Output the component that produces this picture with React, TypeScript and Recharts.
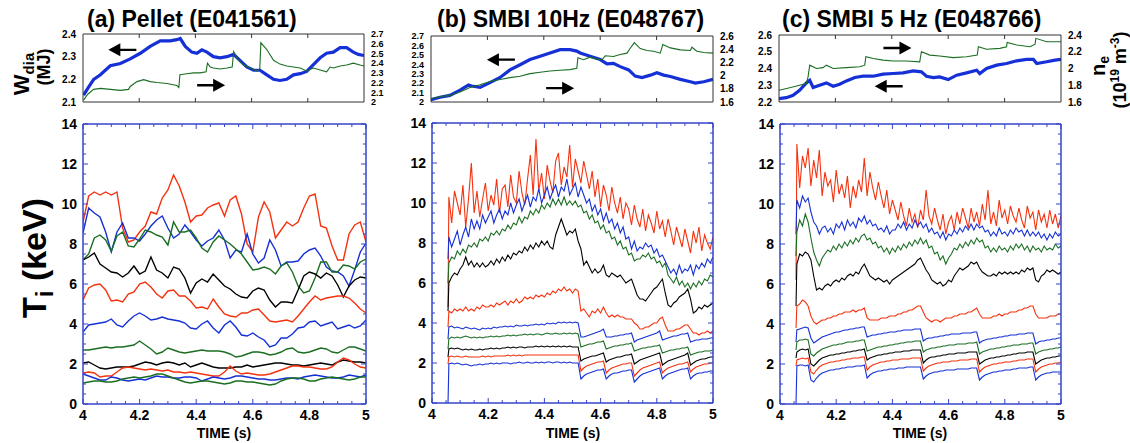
import React from 'react';
import { LineChart, Line, XAxis, YAxis, ReferenceDot } from 'recharts';

const FONT = '"Liberation Sans", Arial, Helvetica, sans-serif';
const RED = '#f5320f';
const BLUE = '#1530d6';
const GREEN = '#1a6e22';
const BLACK = '#000000';
const FRAME_BLUE = '#3545c8';
const FRAME_DARK = '#333333';

// ---------- categories (time grids) ----------
const timeGrid = (a: number, b: number, step: number) =>
  Array.from({ length: Math.round((b - a) / step) + 1 }, (_, i) => Number((a + i * step).toFixed(3)));
const TIME_A = timeGrid(4, 5, 0.02);
const TIME_BC = [4.057, ...timeGrid(4.06, 5, 0.01)];

// ---------- tick labels ----------
const X_MAJOR = [4, 4.2, 4.4, 4.6, 4.8, 5];
const X_MINOR = [4.05, 4.1, 4.15, 4.25, 4.3, 4.35, 4.45, 4.5, 4.55, 4.65, 4.7, 4.75, 4.85, 4.9, 4.95];
const TI_MAJOR = [0, 2, 4, 6, 8, 10, 12, 14];
const TI_MINOR = [0.5, 1, 1.5, 2.5, 3, 3.5, 4.5, 5, 5.5, 6.5, 7, 7.5, 8.5, 9, 9.5, 10.5, 11, 11.5, 12.5, 13, 13.5];
const TOP_X = [4.2, 4.4, 4.6, 4.8];
const A_W_TICKS = [2.1, 2.2, 2.3, 2.4];
const A_N_TICKS = [2, 2.1, 2.2, 2.3, 2.4, 2.5, 2.6, 2.7];
const B_W_TICKS = [2, 2.1, 2.2, 2.3, 2.4, 2.5, 2.6, 2.7];
const B_N_TICKS = [1.6, 1.8, 2, 2.2, 2.4, 2.6];
const C_W_TICKS = [2.2, 2.3, 2.4, 2.5, 2.6];
const C_N_TICKS = [1.6, 1.8, 2, 2.2, 2.4];

// ---------- panel (a) Ti series (keV) ----------
const A_RED1 = [9.1,10.4,10.6,10.45,10.6,10.45,10.6,8.8,8.1,8.2, 8.6,8.9,9.6,9.5,10.3,10.7,11.45,10.9,10.1,9.1, 9.4,9.45,9.8,9.95,10.05,9.4,10.2,10.4,9.5,8.0, 7.6,9.35,10.1,9.6,8.3,8.7,9.1,8.9,9.1,9.8, 10.4,10.5,8.9,8.8,7.9,7.2,7.2,8.5,8.95,9.1, 8.1];
const A_BLUE1 = [8.55,9.8,9.55,9.35,8.6,7.6,8.6,9.05,8.3,8.3, 8.15,8.5,8.9,9.2,9.4,8.8,8.3,8.5,8.95,8.6, 8.2,7.9,8.15,8.3,8.7,8.2,7.3,7.7,7.6,8.5, 7.5,7.05,7.3,8.2,7.7,6.9,7.1,7.1,7.15,7.5, 7.7,7.8,7.4,6.85,6.65,6.6,6.4,5.9,6.7,7.6, 8.05];
const A_GREEN1 = [7.2,7.5,8.3,8.45,8.2,7.65,8.4,8.6,7.9,7.85, 8.25,8.7,8.6,8.45,8.35,7.95,9.1,8.6,8.6,8.7, 8.3,7.8,7.6,8.1,8.4,8.2,8.0,7.75,7.5,7.1, 6.7,6.75,6.85,6.75,6.5,6.9,7.05,6.6,5.9,5.55, 5.65,6.3,7.1,7.1,6.6,6.6,6.95,6.9,6.75,7.1, 7.25];
const A_BLACK1 = [7.2,7.35,7.55,7.0,6.8,6.6,6.55,6.35,6.55,6.9, 6.5,6.65,7.35,6.7,6.55,6.3,6.85,6.75,6.3,5.55, 6.05,6.25,6.1,6.5,6.2,5.9,5.75,5.5,5.35,5.3, 5.65,5.8,5.7,5.2,4.85,5.1,5.1,5.05,5.7,6.4, 6.6,6.5,6.3,6.55,6.4,5.95,5.35,5.9,6.2,6.35, 6.3];
const A_RED2 = [5.2,5.8,5.95,6.0,5.7,5.15,5.2,5.1,5.5,5.6, 6.0,6.1,5.85,5.5,5.3,5.65,5.7,5.4,5.4,5.15, 4.8,4.85,4.75,5.25,4.85,4.5,4.4,4.35,4.55,4.55, 4.7,4.75,4.45,4.15,4.1,4.15,4.2,4.1,4.4,4.75, 5.1,5.4,5.2,5.3,5.35,5.4,5.4,5.3,5.05,4.75, 4.55];
const A_BLUE2 = [3.6,3.95,4.0,4.05,4.1,4.25,3.95,3.85,4.15,4.4, 4.55,4.4,4.2,4.25,4.35,4.25,4.2,4.15,4.05,3.8, 3.75,4.0,4.15,3.8,3.55,3.95,4.15,3.85,3.45,3.4, 3.55,3.35,3.2,2.85,2.95,3.3,3.3,3.5,3.8,3.85, 4.1,4.15,3.9,4.0,4.1,3.75,3.85,3.95,3.8,3.9, 4.2];
const A_GREEN2 = [2.7,2.7,2.75,2.8,2.85,2.8,2.85,2.85,2.9,2.95, 3.15,2.95,2.75,2.5,2.6,2.8,2.7,2.6,2.55,2.6, 2.65,2.7,2.65,2.65,2.65,2.6,2.5,2.35,2.4,2.5, 2.6,2.6,2.55,2.45,2.5,2.6,2.75,2.8,2.6,2.55, 2.6,2.7,2.8,2.75,2.6,2.55,2.7,2.85,2.85,2.75, 2.65];
const A_BLACK2 = [2.05,2.1,1.95,1.8,1.75,1.8,1.85,1.85,1.85,1.9, 2.0,2.1,2.05,1.95,2.05,2.1,2.05,1.95,2.05,1.85, 1.95,2.05,1.95,1.85,1.8,1.8,1.8,1.85,1.85,1.95, 1.85,1.9,1.95,2.0,2.05,2.05,2.0,1.95,1.95,1.9, 1.95,2.0,2.05,2.0,1.95,2.1,2.2,2.15,2.1,2.1, 2.05];
const A_RED3 = [1.55,1.6,1.55,1.35,1.4,1.4,1.6,1.8,1.85,1.8, 1.75,1.7,1.75,1.7,1.65,1.7,1.6,1.6,1.55,1.6, 1.55,1.5,1.45,1.4,1.4,1.6,1.9,1.65,1.5,1.55, 1.5,1.45,1.45,1.5,1.6,1.7,1.8,1.9,1.9,1.85, 1.85,1.8,1.75,1.75,1.85,2.1,2.3,2.2,2.0,1.85, 1.8];
const A_BLUE3 = [1.5,1.4,1.3,1.2,1.2,1.35,1.3,1.2,1.15,1.2, 1.25,1.2,1.3,1.4,1.35,1.35,1.3,1.3,1.35,1.35, 1.3,1.15,1.25,1.35,1.3,1.25,1.3,1.4,1.4,1.35, 1.3,1.25,1.25,1.2,1.2,1.25,1.3,1.3,1.25,1.35, 1.4,1.45,1.4,1.35,1.3,1.3,1.35,1.45,1.4,1.35, 1.45];
const A_GREEN3 = [1.05,1.1,1.15,1.15,1.1,1.1,1.15,1.25,1.3,1.35, 1.3,1.35,1.4,1.5,1.5,1.4,1.3,1.2,1.1,1.05, 1.1,1.15,1.15,1.1,1.05,1.0,1.05,1.15,1.15,1.1, 1.1,1.05,1.0,0.95,1.0,1.15,1.25,1.3,1.3,1.25, 1.15,1.15,1.25,1.3,1.35,1.3,1.25,1.2,1.25,1.35, 1.35];

// ---------- panel (b) Ti series (first value = start at 4.057) ----------
const B_RED1 = [4.8, 10.3,9.0,10.6,10.0,9.4,10.9,8.8,10.2,12.0,9.5, 10.6,9.3,10.2,11.0,9.6,10.4,9.9,11.2,9.5,10.7, 10.9,9.8,11.4,10.3,10.0,11.6,10.5,9.9,11.2,12.4, 10.4,13.2,10.6,11.5,10.2,11.9,11.1,10.5,12.1,12.5, 10.9,11.8,11.3,12.9,10.8,12.2,11.6,11.0,12.1,11.4, 10.7,11.6,10.3,11.2,9.8,10.9,10.4,9.6,10.8,10.0, 9.5,10.3,9.2,10.0,9.7,8.9,9.9,9.2,8.8,9.7, 8.6,9.4,9.0,8.5,9.6,8.7,9.1,8.3,9.2,8.6, 7.9,8.8,8.3,7.8,8.7,8.1,7.5,8.6,8.0,8.8, 7.6,8.4,8.0,7.7,8.3];
const B_BLUE1 = [7.2, 8.3,7.8,8.2,8.6,7.9,8.4,8.8,8.3,9.2,8.7, 9.1,8.7,9.4,9.0,9.3,9.6,9.0,9.4,9.7,9.2, 9.6,9.4,10.0,9.5,9.9,10.2,9.6,10.0,10.4,9.8, 10.3,10.1,10.7,10.0,10.4,10.8,10.2,10.6,10.9,10.3, 10.8,10.6,11.2,10.4,10.7,11.0,10.3,10.8,10.4,10.0, 10.2,9.6,9.9,9.4,9.7,9.1,9.5,9.0,9.2,8.7, 9.0,8.5,8.8,8.2,8.3,7.7,8.1,7.6,7.8,7.7, 8.0,7.8,7.9,7.5,7.7,7.3,7.4,7.1,6.8,6.5, 6.7,6.4,6.9,6.5,6.7,6.6,6.9,6.4,6.9,6.7, 7.0,6.8,7.2,7.0,7.3];
const B_GREEN1 = [6.0, 7.0,7.3,7.2,7.6,7.4,7.7,7.5,7.9,7.8,8.0, 7.8,8.2,8.1,8.3,8.1,8.5,8.4,8.6,8.4,8.7, 8.6,8.9,8.7,9.0,8.9,9.3,9.0,9.3,9.2,9.6, 9.4,9.7,9.5,9.9,9.7,10.0,9.8,10.2,9.9,10.2, 9.9,10.3,9.9,10.1,9.9,10.1,9.8,9.9,9.5,9.6, 9.2,9.4,9.0,9.1,8.7,8.9,8.5,8.6,8.2,8.3, 7.9,8.1,7.7,7.8,7.4,7.5,7.1,7.2,7.2,7.4, 7.3,7.5,7.2,7.3,7.0,7.1,6.8,7.0,6.4,6.2, 6.0,6.3,5.9,6.1,5.8,6.0,5.7,6.0,5.8,6.1, 5.9,6.2,6.1,6.4,6.3];
const B_BLACK1 = [4.6, 6.0,6.3,6.5,6.4,6.7,6.9,7.3,6.9,7.1,6.8, 7.0,6.8,7.0,6.8,6.9,7.1,6.9,7.2,7.0,7.3, 7.1,7.4,7.2,7.5,7.4,7.6,7.5,7.8,7.6,7.9, 7.7,8.0,7.8,8.1,7.9,8.1,7.8,7.7,8.4,8.8, 9.2,8.8,8.4,8.6,8.5,8.7,8.1,7.7,6.9,7.1, 6.8,6.5,6.7,6.5,6.6,6.9,6.4,6.3,6.5,6.4, 6.3,6.4,6.2,6.0,6.1,6.2,5.8,5.4,5.2,5.2, 5.1,5.3,5.5,5.7,5.8,6.0,6.2,5.5,4.9,4.8, 5.0,5.1,5.3,5.4,5.5,5.7,5.2,4.5,4.6,4.8, 4.7,4.9,4.8,4.9,5.0];
const B_RED2 = [3.8, 4.6,4.5,4.7,4.6,4.7,4.6,4.8,4.6,4.7,4.6, 4.8,4.7,4.9,4.8,4.8,4.9,4.8,5.0,4.9,5.0, 5.1,4.9,5.1,5.0,5.2,5.0,5.1,5.3,5.2,5.3, 5.2,5.4,5.3,5.4,5.3,5.5,5.4,5.6,5.5,5.7, 5.6,5.8,5.6,5.7,5.5,5.7,5.6,4.6,4.7,4.5, 4.3,4.6,4.5,4.7,4.5,4.8,4.5,4.3,4.4,4.3, 4.4,4.3,4.3,4.2,4.2,4.2,4.0,3.9,3.7,3.7, 3.8,3.8,3.9,4.0,4.0,4.2,4.3,3.9,3.6,3.6, 3.6,3.7,3.7,3.8,3.9,3.9,3.7,3.5,3.5,3.4, 3.5,3.5,3.6,3.5,3.6];
const B_BLUE2 = [3.2, 3.8,3.85,3.75,3.8,3.75,3.7,3.8,3.75,3.7,3.75, 3.7,3.65,3.75,3.7,3.75,3.7,3.8,3.75,3.8,3.8, 3.85,3.8,3.85,3.8,3.9,3.85,3.85,3.9,3.85,3.9, 3.9,3.95,3.9,3.95,3.9,4.0,3.95,4.0,3.95,4.05, 4.0,4.05,4.0,4.05,4.0,4.05,4.0,3.3,3.3,3.35, 3.4,3.45,3.5,3.55,3.6,3.7,3.3,3.3,3.3,3.35, 3.35,3.4,3.4,3.45,3.45,3.5,3.05,3.15,3.2,3.25, 3.3,3.35,3.4,3.45,3.5,3.6,3.15,3.2,3.25,3.3, 3.35,3.35,3.4,3.45,3.45,3.5,3.05,3.1,3.15,3.15, 3.2,3.2,3.2,3.25,3.25];
const B_GREEN2 = [2.7, 3.2,3.3,3.25,3.3,3.25,3.3,3.35,3.3,3.25,3.3, 3.25,3.3,3.25,3.3,3.3,3.35,3.3,3.35,3.3,3.35, 3.35,3.4,3.35,3.4,3.35,3.4,3.4,3.45,3.4,3.45, 3.4,3.45,3.45,3.4,3.45,3.5,3.45,3.45,3.5,3.45, 3.45,3.5,3.45,3.5,3.45,3.5,3.45,2.8,2.85,2.9, 2.95,2.95,3.0,3.05,3.05,3.1,2.7,2.75,2.8,2.85, 2.85,2.9,2.9,2.95,2.95,3.0,2.6,2.65,2.7,2.75, 2.75,2.8,2.8,2.85,2.85,2.9,2.5,2.55,2.6,2.65, 2.65,2.7,2.7,2.75,2.75,2.8,2.4,2.45,2.5,2.55, 2.55,2.6,2.6,2.6,2.65];
const B_BLACK2 = [2.3, 2.7,2.75,2.7,2.75,2.7,2.65,2.7,2.65,2.7,2.65, 2.65,2.7,2.65,2.7,2.7,2.75,2.7,2.75,2.7,2.75, 2.75,2.8,2.75,2.8,2.75,2.8,2.8,2.75,2.8,2.8, 2.8,2.85,2.8,2.85,2.8,2.85,2.8,2.85,2.8,2.85, 2.8,2.85,2.8,2.85,2.8,2.8,2.8,2.1,2.2,2.25, 2.3,2.35,2.35,2.4,2.45,2.5,2.05,2.15,2.2,2.25, 2.3,2.3,2.35,2.4,2.4,2.45,1.95,2.05,2.15,2.2, 2.25,2.3,2.35,2.4,2.45,2.5,1.9,2.0,2.1,2.15, 2.2,2.25,2.3,2.35,2.4,2.5,1.9,2.0,2.1,2.15, 2.2,2.2,2.25,2.3,2.3];
const B_RED3 = [1.95, 2.3,2.35,2.3,2.35,2.3,2.3,2.35,2.3,2.3,2.3, 2.3,2.3,2.35,2.3,2.35,2.3,2.35,2.35,2.35,2.35, 2.35,2.4,2.35,2.4,2.35,2.4,2.35,2.4,2.4,2.4, 2.4,2.4,2.4,2.4,2.4,2.4,2.4,2.4,2.4,2.4, 2.4,2.4,2.4,2.4,2.4,2.4,2.4,1.6,1.75,1.85, 1.9,1.95,2.0,2.05,2.05,2.1,1.5,1.65,1.75,1.8, 1.85,1.9,1.95,1.95,2.0,2.0,1.35,1.5,1.65,1.75, 1.8,1.85,1.9,1.95,2.0,2.05,1.5,1.65,1.75,1.8, 1.85,1.9,1.95,1.95,2.0,2.05,1.55,1.7,1.8,1.85, 1.9,1.95,1.95,2.0,2.0];
const B_BLUE3 = [0.0, 1.95,2.0,1.95,2.0,1.95,1.9,1.95,1.9,1.85,1.9, 1.9,1.95,1.9,1.95,1.95,2.0,1.95,2.0,1.95,2.0, 2.0,2.0,1.95,2.0,2.0,2.05,2.0,2.0,2.05,2.0, 2.0,2.05,2.0,2.05,2.0,2.05,2.05,2.0,2.05,2.05, 2.0,2.05,2.0,2.05,2.0,2.0,2.0,1.2,1.35,1.45, 1.5,1.55,1.6,1.65,1.65,1.7,1.2,1.35,1.45,1.5, 1.5,1.55,1.6,1.6,1.65,1.65,1.05,1.2,1.35,1.45, 1.5,1.55,1.6,1.65,1.7,1.75,1.2,1.35,1.45,1.5, 1.55,1.6,1.65,1.7,1.7,1.75,1.2,1.35,1.45,1.5, 1.5,1.55,1.55,1.6,1.6];

// ---------- panel (c) Ti series (first value = start at 4.057) ----------
const C_RED1 = [6.2, 13.0,10.8,12.4,11.8,12.8,10.9,12.2,11.3,12.7,10.4, 11.6,10.9,11.2,10.1,11.7,10.5,11.0,10.3,11.4,9.8, 10.9,10.3,11.2,10.6,12.3,10.4,11.6,10.8,10.2,11.1, 10.4,9.8,10.7,9.5,10.2,9.7,9.2,10.1,9.4,8.9, 9.8,9.1,9.5,8.8,9.7,9.2,10.7,9.4,9.0,9.8, 9.2,8.7,9.5,8.5,9.1,9.4,8.7,9.6,9.0,9.8, 9.3,8.8,9.8,9.1,9.6,8.9,10.0,9.2,10.7,9.0, 9.6,8.9,10.2,9.3,9.7,9.0,9.9,9.4,9.1,9.8, 9.2,8.8,9.9,9.3,9.6,8.7,9.7,9.1,9.5,8.8, 9.7,9.0,9.5,8.8,9.4];
const C_BLUE1 = [8.5, 10.2,9.8,10.4,10.1,10.3,9.6,9.1,8.9,8.5,8.8, 8.9,8.6,8.8,8.5,9.0,8.8,9.1,8.7,9.2,8.9, 9.1,8.8,9.3,9.1,9.4,9.0,9.2,8.9,9.0,8.7, 8.8,8.6,8.9,8.5,8.7,8.7,9.0,8.8,9.1,8.7, 9.0,8.8,9.2,8.9,9.1,8.8,9.0,8.6,8.8,8.5, 8.6,8.3,8.6,8.2,8.5,8.4,8.7,8.5,8.8,8.6, 8.9,8.7,9.0,8.7,9.0,8.8,8.9,8.6,8.7,8.4, 8.6,8.4,8.8,8.5,8.6,8.4,8.7,8.5,8.8,8.6, 8.7,8.4,8.7,8.4,8.6,8.4,8.6,8.3,8.5,8.2, 8.5,8.3,8.6,8.4,8.5];
const C_GREEN1 = [7.4, 8.6,9.2,8.9,9.5,9.1,8.3,7.6,7.2,6.9,7.3, 7.5,7.7,7.6,7.9,7.7,8.0,7.8,8.1,7.9,8.2, 8.0,8.3,8.1,8.4,8.5,8.2,8.3,8.0,8.1,7.8, 7.9,7.6,7.8,7.5,7.8,7.6,7.9,7.7,8.0,7.8, 8.1,7.9,8.2,8.0,8.3,8.0,8.2,7.8,7.9,7.5, 7.6,7.2,7.4,7.0,7.3,7.5,7.8,7.7,8.0,7.8, 8.1,7.9,8.2,8.0,8.3,8.1,8.2,7.8,7.9,7.6, 7.8,7.6,7.9,7.7,7.8,7.6,7.9,7.7,8.0,7.8, 8.0,7.7,7.9,7.6,7.9,7.7,7.8,7.6,7.9,7.7, 7.8,7.7,8.0,7.8,7.9];
const C_BLACK1 = [4.9, 7.0,7.5,7.4,7.6,7.5,7.2,6.4,5.7,5.8,5.7, 5.9,6.0,5.9,6.1,6.2,6.1,6.3,6.2,6.4,6.5, 6.4,6.6,6.5,6.8,7.0,6.7,6.4,6.3,6.2,6.3, 6.2,6.1,6.2,6.0,6.2,6.3,6.4,6.5,6.6,6.7, 6.8,6.9,7.0,7.2,7.3,7.0,6.7,6.5,6.2,6.1, 6.0,6.1,5.9,6.0,6.2,6.1,6.4,6.6,6.8,6.7, 6.8,6.9,7.1,7.0,7.1,6.8,6.6,6.5,6.4,6.4, 6.5,6.4,6.6,6.5,6.6,6.5,6.6,6.5,6.6,6.5, 6.7,6.6,6.8,6.7,6.8,6.2,6.1,6.4,6.5,6.7, 6.6,6.7,6.6,6.5,6.6];
const C_RED2 = [3.8, 4.9,5.0,5.2,5.1,4.9,4.4,4.1,4.0,4.1,4.2, 4.2,4.3,4.3,4.4,4.4,4.5,4.5,4.6,4.6,4.6, 4.7,4.6,4.7,4.7,4.8,4.3,4.2,4.2,4.2,4.2, 4.3,4.3,4.3,4.4,4.4,4.4,4.5,4.5,4.6,4.6, 4.7,4.7,4.8,4.9,4.9,4.6,4.3,4.2,4.1,4.2, 4.2,4.1,4.2,4.3,4.3,4.3,4.4,4.4,4.5,4.5, 4.5,4.6,4.6,4.7,4.8,4.5,4.3,4.3,4.3,4.3, 4.4,4.4,4.5,4.4,4.5,4.5,4.6,4.6,4.6,4.7, 4.7,4.8,4.8,4.9,4.9,4.5,4.3,4.3,4.3,4.3, 4.4,4.4,4.4,4.5,4.5];
const C_BLUE2 = [3.1, 3.7,3.75,3.8,3.85,3.8,3.3,3.05,3.15,3.25,3.35, 3.4,3.45,3.5,3.55,3.6,3.6,3.65,3.7,3.7,3.75, 3.75,3.8,3.8,3.85,3.85,3.35,3.4,3.45,3.45,3.5, 3.5,3.55,3.55,3.6,3.6,3.6,3.65,3.65,3.7,3.7, 3.7,3.7,3.75,3.75,3.75,3.15,3.25,3.3,3.3,3.35, 3.35,3.4,3.4,3.45,3.45,3.5,3.5,3.5,3.5,3.55, 3.55,3.55,3.55,3.6,3.6,3.05,3.15,3.2,3.25,3.25, 3.3,3.3,3.35,3.35,3.4,3.4,3.45,3.45,3.45,3.5, 3.5,3.5,3.55,3.55,3.55,3.0,3.1,3.15,3.15,3.2, 3.2,3.25,3.25,3.3,3.3];
const C_GREEN2 = [2.7, 3.1,3.2,3.2,3.25,3.2,2.5,2.4,2.55,2.65,2.75, 2.8,2.85,2.9,2.95,2.95,3.0,3.0,3.05,3.1,3.1, 3.1,3.15,3.15,3.2,3.2,2.65,2.7,2.75,2.8,2.85, 2.85,2.9,2.9,2.95,2.95,3.0,3.0,3.05,3.05,3.1, 3.1,3.1,3.15,3.15,3.15,2.6,2.7,2.75,2.8,2.8, 2.85,2.85,2.9,2.9,2.95,2.95,2.95,3.0,3.0,3.0, 3.0,3.05,3.05,3.05,3.1,2.5,2.6,2.65,2.7,2.75, 2.75,2.8,2.8,2.85,2.85,2.9,2.9,2.95,2.95,2.95, 3.0,3.0,3.0,3.05,3.05,2.5,2.6,2.65,2.7,2.7, 2.75,2.75,2.8,2.8,2.85];
const C_BLACK2 = [2.3, 2.6,2.7,2.75,2.7,2.75,2.0,1.9,2.05,2.2,2.3, 2.35,2.4,2.45,2.45,2.5,2.5,2.55,2.55,2.6,2.6, 2.65,2.65,2.7,2.7,2.75,2.2,2.3,2.35,2.4,2.45, 2.45,2.5,2.5,2.55,2.55,2.6,2.6,2.6,2.65,2.65, 2.65,2.7,2.7,2.7,2.7,2.05,2.2,2.3,2.35,2.35, 2.4,2.4,2.45,2.45,2.5,2.5,2.5,2.55,2.55,2.55, 2.55,2.6,2.6,2.6,2.6,2.0,2.1,2.2,2.25,2.3, 2.3,2.35,2.35,2.4,2.4,2.45,2.45,2.5,2.5,2.55, 2.55,2.55,2.6,2.6,2.6,2.0,2.1,2.2,2.25,2.3, 2.3,2.35,2.35,2.4,2.4];
const C_RED3 = [1.9, 2.2,2.25,2.3,2.25,2.3,1.6,1.5,1.7,1.85,1.95, 2.0,2.05,2.1,2.1,2.15,2.15,2.2,2.2,2.25,2.25, 2.3,2.3,2.3,2.35,2.35,1.7,1.85,1.95,2.0,2.05, 2.1,2.1,2.15,2.15,2.2,2.2,2.2,2.25,2.25,2.25, 2.25,2.3,2.3,2.3,2.3,1.65,1.8,1.9,1.95,2.0, 2.05,2.05,2.1,2.1,2.1,2.15,2.15,2.15,2.2,2.2, 2.2,2.2,2.25,2.25,2.25,1.6,1.75,1.85,1.9,1.95, 2.0,2.0,2.05,2.05,2.1,2.1,2.1,2.15,2.15,2.2, 2.2,2.2,2.25,2.25,2.25,1.6,1.75,1.85,1.9,1.95, 2.0,2.0,2.05,2.05,2.1];
const C_BLUE3 = [0.0, 1.9,1.95,1.95,1.9,1.95,1.2,1.1,1.3,1.45,1.55, 1.6,1.65,1.7,1.7,1.75,1.75,1.8,1.8,1.85,1.85, 1.85,1.9,1.9,1.9,1.95,1.3,1.45,1.55,1.6,1.65, 1.65,1.7,1.7,1.75,1.75,1.75,1.8,1.8,1.8,1.85, 1.85,1.85,1.85,1.85,1.85,1.25,1.4,1.5,1.55,1.6, 1.6,1.65,1.65,1.7,1.7,1.7,1.7,1.75,1.75,1.75, 1.75,1.75,1.8,1.8,1.8,1.2,1.35,1.45,1.5,1.55, 1.6,1.6,1.65,1.65,1.7,1.7,1.7,1.75,1.75,1.8, 1.8,1.8,1.8,1.85,1.85,1.2,1.35,1.45,1.5,1.55, 1.55,1.6,1.6,1.6,1.6];

// ---------- top panels: W_dia (MJ, left axis) and n_e (1e19 m^-3, right axis) ----------
const A_W_T = [4.002,4.017,4.038,4.062,4.097,4.133,4.168,4.204,4.239,4.275,4.31,4.334,4.346,4.364,4.387,4.405,4.423,4.441,4.464,4.488,4.512,4.536,4.553,4.583,4.607,4.63,4.654,4.678,4.701,4.725,4.749,4.773,4.796,4.82,4.844,4.867,4.891,4.915,4.938,4.962,4.98,5.0];
const A_W = [2.13,2.16,2.2,2.22,2.26,2.27,2.29,2.315,2.345,2.37,2.37,2.375,2.38,2.345,2.32,2.315,2.33,2.32,2.3,2.295,2.3,2.31,2.29,2.255,2.24,2.24,2.22,2.2,2.195,2.2,2.22,2.225,2.235,2.265,2.295,2.315,2.32,2.34,2.34,2.32,2.31,2.305];
const A_N_T = [4.002,4.017,4.038,4.062,4.097,4.133,4.162,4.168,4.192,4.216,4.239,4.263,4.299,4.334,4.341,4.345,4.37,4.393,4.417,4.438,4.443,4.453,4.464,4.488,4.512,4.531,4.536,4.553,4.571,4.595,4.618,4.629,4.633,4.654,4.678,4.701,4.725,4.749,4.773,4.796,4.82,4.844,4.867,4.879,4.891,4.915,4.938,4.962,4.986,5.0];
const A_N = [2.02,2.08,2.13,2.14,2.13,2.12,2.13,2.16,2.21,2.23,2.21,2.2,2.19,2.17,2.15,2.28,2.29,2.3,2.3,2.31,2.4,2.36,2.35,2.34,2.35,2.36,2.52,2.43,2.38,2.35,2.32,2.34,2.61,2.54,2.43,2.39,2.37,2.36,2.35,2.32,2.35,2.33,2.31,2.36,2.35,2.37,2.38,2.4,2.38,2.37];
const B_W_T = [4.0,4.032,4.067,4.103,4.133,4.144,4.174,4.209,4.245,4.28,4.316,4.351,4.387,4.422,4.458,4.493,4.517,4.529,4.564,4.6,4.624,4.647,4.671,4.701,4.724,4.748,4.778,4.801,4.825,4.849,4.884,4.92,4.937,4.967,5.0];
const B_W = [2.025,2.05,2.07,2.125,2.18,2.17,2.155,2.205,2.26,2.34,2.395,2.45,2.485,2.52,2.555,2.555,2.54,2.52,2.485,2.45,2.405,2.41,2.375,2.34,2.275,2.26,2.285,2.31,2.285,2.27,2.24,2.215,2.2,2.215,2.24];
const B_N_T = [4.0,4.032,4.067,4.103,4.138,4.174,4.209,4.245,4.28,4.316,4.351,4.387,4.422,4.458,4.493,4.517,4.521,4.541,4.564,4.588,4.606,4.618,4.647,4.671,4.695,4.704,4.721,4.742,4.766,4.789,4.813,4.822,4.849,4.884,4.92,4.925,4.943,4.967,5.0];
const B_N = [1.65,1.68,1.7,1.75,1.82,1.86,1.91,1.94,1.97,1.99,2.03,2.05,2.07,2.08,2.09,2.11,2.27,2.24,2.28,2.25,2.24,2.3,2.29,2.32,2.34,2.4,2.5,2.41,2.38,2.37,2.34,2.47,2.42,2.39,2.38,2.43,2.37,2.35,2.34];
const C_W_T = [4.0,4.026,4.05,4.073,4.097,4.109,4.121,4.144,4.168,4.192,4.215,4.239,4.269,4.298,4.334,4.369,4.405,4.44,4.476,4.505,4.523,4.547,4.57,4.6,4.63,4.665,4.701,4.712,4.736,4.772,4.807,4.843,4.878,4.902,4.914,4.949,4.979,5.0];
const C_W = [2.22,2.226,2.24,2.27,2.314,2.33,2.286,2.3,2.314,2.294,2.306,2.326,2.346,2.354,2.354,2.366,2.37,2.374,2.386,2.38,2.354,2.346,2.35,2.334,2.36,2.374,2.39,2.37,2.4,2.42,2.43,2.446,2.454,2.454,2.43,2.44,2.45,2.454];
const C_N_T = [4.0,4.038,4.073,4.097,4.103,4.109,4.133,4.156,4.168,4.192,4.239,4.286,4.304,4.308,4.334,4.369,4.405,4.452,4.499,4.505,4.535,4.57,4.618,4.665,4.703,4.707,4.736,4.783,4.807,4.809,4.843,4.89,4.908,4.911,4.949,5.0];
const C_N = [1.74,1.77,1.8,1.82,1.9,2.04,2.0,2.01,2.04,2.0,2.01,2.02,2.04,2.14,2.12,2.1,2.09,2.09,2.08,2.2,2.16,2.15,2.13,2.14,2.16,2.26,2.23,2.24,2.26,2.31,2.28,2.26,2.29,2.36,2.32,2.32];

// ---------- helpers ----------
const near = (a: number, b: number) => Math.abs(a - b) < 1e-6;
const fmtNum = (v: number) => (near(v, Math.round(v)) ? String(Math.round(v)) : v.toFixed(1));

type Side = 'bottom' | 'top' | 'left' | 'right';
function tickR(side: Side, majors: number[], o: any) {
  return (p: any) => {
    const v = Number(p.payload.value);
    const x = Number(p.x);
    const y = Number(p.y);
    const major = majors.some((m) => near(m, v));
    const len = major ? o.majorLen : o.minorLen;
    let line: any = null;
    if (len > 0) {
      let x2 = x, y2 = y;
      if (side === 'bottom') y2 = y - len;
      if (side === 'top') y2 = y + len;
      if (side === 'left') x2 = x + len;
      if (side === 'right') x2 = x - len;
      line = <line x1={x} y1={y} x2={x2} y2={y2} stroke={o.color} strokeWidth={o.sw || 1} />;
    }
    let label: any = null;
    if (o.labels && major) {
      const s = fmtNum(v);
      const common = { fontFamily: FONT, fontWeight: 'bold', fontSize: o.fontSize, fill: '#000' } as any;
      if (side === 'bottom') label = <text x={x} y={y + o.gap} textAnchor="middle" {...common}>{s}</text>;
      if (side === 'left') label = <text x={x - o.gap} y={y + o.fontSize * 0.36} textAnchor="end" {...common}>{s}</text>;
      if (side === 'right') label = <text x={x + o.gap} y={y + o.fontSize * 0.36} textAnchor="start" {...common}>{s}</text>;
    }
    return <g>{line}{label}</g>;
  };
}

const arrowShape = (dir: number) => (p: any) => {
  const cx = Number(p.cx), cy = Number(p.cy);
  const L = 14, H = 12, W = 6.5, T = 1.2;
  const tip = cx + dir * L;
  const base = tip - dir * H;
  const tail = cx - dir * L;
  const d = `M${tip},${cy} L${base},${cy - W} L${base},${cy - T} L${tail},${cy - T} L${tail},${cy + T} L${base},${cy + T} L${base},${cy + W} Z`;
  return <path d={d} fill="#000" />;
};

const ALL_X = [...X_MAJOR, ...X_MINOR].sort((a, b) => a - b);
const ALL_Y = [...TI_MAJOR, ...TI_MINOR].sort((a, b) => a - b);

function TiPanel(props: any) {
  const { pos, margin, yWidth, xHeight, times, series, colors, sw } = props;
  const rows = times.map((t: number, i: number) => {
    const r: any = { t };
    series.forEach((s: number[], k: number) => (r['s' + k] = s[i]));
    return r;
  });
  const frame = { stroke: FRAME_BLUE, strokeWidth: 1.5 };
  return (
    <div style={{ position: 'absolute', left: pos[0], top: pos[1] }}>
      <LineChart width={pos[2]} height={pos[3]} data={rows} margin={margin}>
        <XAxis xAxisId="b" orientation="bottom" type="number" dataKey="t" domain={[4, 5]} allowDataOverflow ticks={ALL_X} interval={0} height={xHeight} tickSize={0} tickMargin={0} axisLine={frame} tickLine={false}
          tick={tickR('bottom', X_MAJOR, { color: FRAME_BLUE, majorLen: 5, minorLen: 3, labels: true, fontSize: 14, gap: 16 })} />
        <XAxis xAxisId="t" orientation="top" type="number" dataKey="t" domain={[4, 5]} allowDataOverflow ticks={ALL_X} interval={0} height={1} tickSize={0} tickMargin={0} axisLine={frame} tickLine={false}
          tick={tickR('top', X_MAJOR, { color: FRAME_BLUE, majorLen: 5, minorLen: 3 })} />
        <YAxis yAxisId="l" orientation="left" type="number" domain={[0, 14]} allowDataOverflow ticks={ALL_Y} interval={0} width={yWidth} tickSize={0} tickMargin={0} axisLine={frame} tickLine={false}
          tick={tickR('left', TI_MAJOR, { color: FRAME_BLUE, majorLen: 5, minorLen: 3, labels: true, fontSize: 14, gap: 6 })} />
        <YAxis yAxisId="r" orientation="right" type="number" domain={[0, 14]} allowDataOverflow ticks={ALL_Y} interval={0} width={1} tickSize={0} tickMargin={0} axisLine={frame} tickLine={false}
          tick={tickR('right', TI_MAJOR, { color: FRAME_BLUE, majorLen: 5, minorLen: 3 })} />
        {series.map((_: any, k: number) => (
          <Line key={k} xAxisId="b" yAxisId="l" type="linear" dataKey={'s' + k} stroke={colors[k]} strokeWidth={sw} dot={false} activeDot={false} isAnimationActive={false} />
        ))}
      </LineChart>
    </div>
  );
}

function TopPanel(props: any) {
  const { pos, margin, yLWidth, yRWidth, wDom, wTicks, nDom, nTicks, wT, wV, nT, nV, arrows, lFont, rFont } = props;
  const wRows = wT.map((t: number, i: number) => ({ t, v: wV[i] }));
  const nRows = nT.map((t: number, i: number) => ({ t, v: nV[i] }));
  const frame = { stroke: FRAME_DARK, strokeWidth: 1 };
  return (
    <div style={{ position: 'absolute', left: pos[0], top: pos[1] }}>
      <LineChart width={pos[2]} height={pos[3]} margin={margin}>
        <XAxis xAxisId="b" orientation="bottom" type="number" dataKey="t" domain={[4, 5]} allowDataOverflow ticks={TOP_X} interval={0} height={1} tickSize={0} tickMargin={0} axisLine={frame} tickLine={false}
          tick={tickR('bottom', TOP_X, { color: FRAME_DARK, majorLen: 4, minorLen: 0 })} />
        <XAxis xAxisId="t" orientation="top" type="number" dataKey="t" domain={[4, 5]} allowDataOverflow ticks={TOP_X} interval={0} height={1} tickSize={0} tickMargin={0} axisLine={frame} tickLine={false}
          tick={tickR('top', TOP_X, { color: FRAME_DARK, majorLen: 4, minorLen: 0 })} />
        <YAxis yAxisId="w" orientation="left" type="number" domain={wDom} allowDataOverflow ticks={wTicks} interval={0} width={yLWidth} tickSize={0} tickMargin={0} axisLine={frame} tickLine={false}
          tick={tickR('left', wTicks, { color: FRAME_DARK, majorLen: 0, minorLen: 0, labels: true, fontSize: lFont, gap: 7 })} />
        <YAxis yAxisId="n" orientation="right" type="number" domain={nDom} allowDataOverflow ticks={nTicks} interval={0} width={yRWidth} tickSize={0} tickMargin={0} axisLine={frame} tickLine={false}
          tick={tickR('right', nTicks, { color: FRAME_DARK, majorLen: 0, minorLen: 0, labels: true, fontSize: rFont, gap: 7 })} />
        <Line data={wRows} xAxisId="b" yAxisId="w" type="linear" dataKey="v" stroke={BLUE} strokeWidth={3.2} dot={false} activeDot={false} isAnimationActive={false} />
        <Line data={nRows} xAxisId="b" yAxisId="n" type="linear" dataKey="v" stroke={GREEN} strokeWidth={1.1} dot={false} activeDot={false} isAnimationActive={false} />
        {arrows.map((a: any, i: number) => (
          <ReferenceDot key={i} xAxisId="b" yAxisId="w" x={a.t} y={a.v} r={1} shape={arrowShape(a.dir)} ifOverflow="visible" />
        ))}
      </LineChart>
    </div>
  );
}

const COLORS_A = [RED, BLUE, GREEN, BLACK, RED, BLUE, GREEN, BLACK, RED, BLUE, GREEN];
const COLORS_BC = [RED, BLUE, GREEN, BLACK, RED, BLUE, GREEN, BLACK, RED, BLUE];

export default function App() {
  return (
    <div style={{ position: 'absolute', left: 0, top: 0, width: 1130, height: 443, background: '#fff', overflow: 'hidden' }}>
      <TopPanel pos={[0, 20, 400, 90]} margin={{ top: 13, right: 6, bottom: 7, left: 23 }} yLWidth={60} yRWidth={30}
        wDom={[2.1, 2.4]} wTicks={A_W_TICKS} nDom={[2, 2.7]} nTicks={A_N_TICKS} wT={A_W_T} wV={A_W} nT={A_N_T} nV={A_N}
        lFont={10} rFont={9}
        arrows={[{ t: 4.14, v: 2.33, dir: -1 }, { t: 4.456, v: 2.174, dir: 1 }]} />
      <TopPanel pos={[360, 20, 400, 90]} margin={{ top: 15, right: 17, bottom: 7, left: 21 }} yLWidth={50} yRWidth={30}
        wDom={[2.0, 2.7]} wTicks={B_W_TICKS} nDom={[1.6, 2.6]} nTicks={B_N_TICKS} wT={B_W_T} wV={B_W} nT={B_N_T} nV={B_N}
        lFont={9} rFont={10}
        arrows={[{ t: 4.248, v: 2.449, dir: -1 }, { t: 4.458, v: 2.147, dir: 1 }]} />
      <TopPanel pos={[720, 20, 410, 90]} margin={{ top: 14, right: 39, bottom: 7, left: 9 }} yLWidth={50} yRWidth={30}
        wDom={[2.2, 2.6]} wTicks={C_W_TICKS} nDom={[1.6, 2.4]} nTicks={C_N_TICKS} wT={C_W_T} wV={C_W} nT={C_N_T} nV={C_N}
        lFont={10} rFont={10}
        arrows={[{ t: 4.42, v: 2.522, dir: 1 }, { t: 4.389, v: 2.294, dir: -1 }]} />

      <TiPanel pos={[0, 110, 380, 333]} margin={{ top: 13, right: 13, bottom: 0, left: 23 }} yWidth={60} xHeight={39}
        times={TIME_A} series={[A_RED1, A_BLUE1, A_GREEN1, A_BLACK1, A_RED2, A_BLUE2, A_GREEN2, A_BLACK2, A_RED3, A_BLUE3, A_GREEN3]}
        colors={COLORS_A} sw={1.4} />
      <TiPanel pos={[370, 110, 360, 333]} margin={{ top: 12, right: 16, bottom: 0, left: 12 }} yWidth={50} xHeight={40}
        times={TIME_BC} series={[B_RED1, B_BLUE1, B_GREEN1, B_BLACK1, B_RED2, B_BLUE2, B_GREEN2, B_BLACK2, B_RED3, B_BLUE3]}
        colors={COLORS_BC} sw={1.1} />
      <TiPanel pos={[720, 110, 360, 333]} margin={{ top: 13, right: 18, bottom: 0, left: 10 }} yWidth={50} xHeight={39}
        times={TIME_BC} series={[C_RED1, C_BLUE1, C_GREEN1, C_BLACK1, C_RED2, C_BLUE2, C_GREEN2, C_BLACK2, C_RED3, C_BLUE3]}
        colors={COLORS_BC} sw={1.1} />

      <svg width={1130} height={443} style={{ position: 'absolute', left: 0, top: 0, pointerEvents: 'none' }}>
        <g fontFamily={FONT} fontWeight="bold" fill="#000">
          <text x={87} y={27} fontSize={23}>(a) Pellet (E041561)</text>
          <text x={437} y={27} fontSize={23}>(b) SMBI 10Hz (E048767)</text>
          <text x={782} y={27} fontSize={23}>(c) SMBI 5 Hz (E048766)</text>
          <text x={224} y={438} fontSize={14} textAnchor="middle">TIME (s)</text>
          <text x={573} y={438} fontSize={14} textAnchor="middle">TIME (s)</text>
          <text x={920} y={438} fontSize={14} textAnchor="middle">TIME (s)</text>
          <text transform="translate(46,258) rotate(-90)" textAnchor="middle" fontSize={34}>
            T<tspan fontSize={24} dy={7}>i</tspan><tspan dy={-7}> (keV)</tspan>
          </text>
          <text transform="translate(29,74) rotate(-90)" textAnchor="middle" fontSize={22}>
            W<tspan fontSize={15} dy={5}>dia</tspan>
          </text>
          <text transform="translate(50,67) rotate(-90)" textAnchor="middle" fontSize={18}>(MJ)</text>
          <text transform="translate(1105,66) rotate(-90)" textAnchor="middle" fontSize={20}>
            n<tspan fontSize={14} dy={4}>e</tspan>
          </text>
          <text transform="translate(1126,70) rotate(-90)" textAnchor="middle" fontSize={18}>
            (10<tspan fontSize={12} dy={-7}>19</tspan><tspan dy={7}> m</tspan><tspan fontSize={12} dy={-7}>-3</tspan><tspan dy={7}>)</tspan>
          </text>
        </g>
      </svg>
    </div>
  );
}
